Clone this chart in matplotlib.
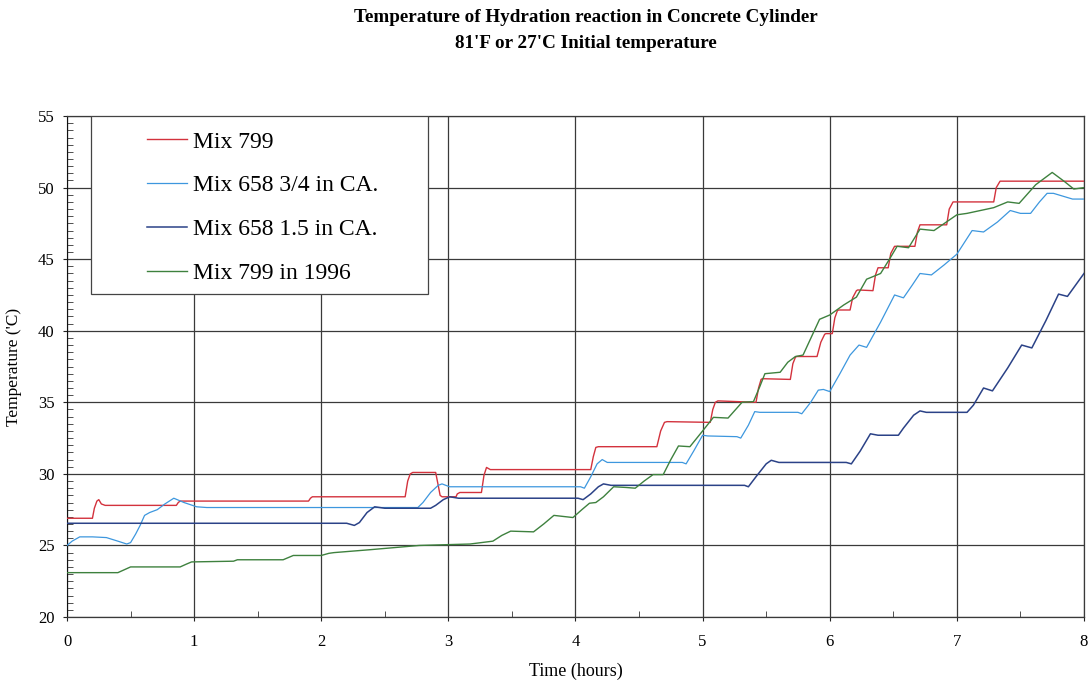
import matplotlib

matplotlib.use("Agg")
import matplotlib.pyplot as plt
from matplotlib.patches import Rectangle
from matplotlib.ticker import MultipleLocator

# Mix 799
red_t = [0, 0.20, 0.215, 0.235, 0.25, 0.27, 0.30, 0.86, 0.875, 0.89, 1.90, 1.915, 1.93,
         2.66, 2.68, 2.70, 2.72, 2.90, 2.92, 2.935, 2.95, 3.06, 3.07, 3.09, 3.26, 3.28, 3.30, 3.33,
         4.12, 4.14, 4.16, 4.18, 4.64, 4.67, 4.70, 4.72, 5.06, 5.08, 5.10, 5.12,
         5.42, 5.44, 5.46, 5.47, 5.69, 5.71, 5.73, 5.74, 5.90, 5.93, 5.96, 5.97,
         6.02, 6.04, 6.06, 6.07, 6.16, 6.18, 6.21, 6.22, 6.34, 6.36, 6.38, 6.39,
         6.46, 6.48, 6.51, 6.52, 6.67, 6.69, 6.71, 6.72, 6.92, 6.94, 6.97, 6.98,
         7.29, 7.31, 7.34, 7.35, 8.0]
red_T = [26.9, 26.9, 27.6, 28.1, 28.2, 27.9, 27.8, 27.8, 28.0, 28.1, 28.1, 28.3, 28.4,
         28.4, 29.5, 30.0, 30.1, 30.1, 29.2, 28.5, 28.4, 28.4, 28.6, 28.7, 28.7, 29.9, 30.45, 30.3,
         30.3, 31.2, 31.85, 31.9, 31.9, 33.0, 33.6, 33.65, 33.6, 34.5, 35.0, 35.1,
         35.0, 36.0, 36.6, 36.65, 36.6, 37.7, 38.15, 38.2, 38.2, 39.2, 39.75, 39.8,
         39.8, 40.9, 41.4, 41.45, 41.45, 42.3, 42.8, 42.85, 42.8, 43.9, 44.4, 44.4,
         44.4, 45.4, 45.9, 45.9, 45.9, 46.9, 47.4, 47.4, 47.4, 48.5, 49.0, 49.0,
         49.0, 50.0, 50.45, 50.45, 50.45]

# Mix 658 3/4 in CA.
lblue_t = [0, 0.04, 0.10, 0.20, 0.31, 0.40, 0.47, 0.50, 0.54, 0.575, 0.61, 0.65, 0.71, 0.77,
           0.84, 0.92, 1.02, 1.10, 2.17, 2.76, 2.80, 2.86, 2.92, 2.95, 3.01, 4.04, 4.07, 4.12,
           4.17, 4.21, 4.25, 4.84, 4.87, 4.93, 5.00, 5.04, 5.27, 5.30, 5.36, 5.41, 5.45, 5.75,
           5.78, 5.85, 5.91, 5.95, 6.00, 6.08, 6.16, 6.23, 6.29, 6.40, 6.51, 6.58, 6.65, 6.71,
           6.80, 6.90, 7.00, 7.12, 7.21, 7.32, 7.42, 7.50, 7.58, 7.65, 7.71, 7.76, 7.91, 8.0]
lblue_T = [25.0, 25.3, 25.6, 25.6, 25.55, 25.3, 25.1, 25.2, 25.8, 26.4, 27.1, 27.3, 27.5, 27.9,
           28.3, 28.0, 27.7, 27.65, 27.65, 27.65, 28.0, 28.7, 29.2, 29.3, 29.1, 29.1, 29.0, 29.8,
           30.7, 31.0, 30.8, 30.8, 30.7, 31.6, 32.7, 32.65, 32.6, 32.5, 33.4, 34.35, 34.3, 34.3,
           34.2, 35.0, 35.85, 35.9, 35.75, 37.0, 38.3, 39.0, 38.84, 40.6, 42.5, 42.3, 43.2, 44.0,
           43.9, 44.6, 45.35, 47.0, 46.9, 47.6, 48.4, 48.2, 48.2, 49.0, 49.6, 49.6, 49.2, 49.2]

# Mix 658 1.5 in CA.
dblue_t = [0, 2.20, 2.26, 2.30, 2.36, 2.42, 2.50, 2.86, 2.90, 2.96, 3.01, 3.08, 4.02, 4.06,
           4.12, 4.18, 4.22, 4.28, 5.33, 5.36, 5.42, 5.50, 5.54, 5.60, 6.13, 6.17, 6.24, 6.32,
           6.38, 6.54, 6.58, 6.66, 6.71, 6.76, 7.08, 7.13, 7.21, 7.28, 7.40, 7.51, 7.59, 7.70,
           7.80, 7.87, 8.0]
dblue_T = [26.55, 26.55, 26.4, 26.6, 27.3, 27.7, 27.6, 27.6, 27.8, 28.2, 28.4, 28.3, 28.3, 28.2,
           28.6, 29.1, 29.3, 29.2, 29.2, 29.1, 29.8, 30.7, 30.95, 30.8, 30.8, 30.7, 31.6, 32.8,
           32.7, 32.7, 33.2, 34.1, 34.4, 34.3, 34.3, 34.8, 36.0, 35.8, 37.4, 39.0, 38.8, 40.7,
           42.56, 42.4, 44.0]

# Mix 799 in 1996
green_t = [0, 0.40, 0.45, 0.50, 0.89, 0.94, 0.98, 1.31, 1.34, 1.70, 1.74, 1.78, 2.0, 2.06,
           2.10, 2.38, 2.77, 3.17, 3.35, 3.42, 3.49, 3.67, 3.75, 3.83, 3.98, 4.05, 4.11, 4.16,
           4.22, 4.30, 4.40, 4.47, 4.54, 4.61, 4.69, 4.75, 4.81, 4.90, 5.00, 5.085, 5.20, 5.26,
           5.31, 5.40, 5.45, 5.49, 5.61, 5.67, 5.73, 5.79, 5.92, 6.00, 6.11, 6.21, 6.29, 6.40,
           6.47, 6.53, 6.62, 6.71, 6.82, 7.00, 7.08, 7.29, 7.40, 7.49, 7.62, 7.75, 7.85, 7.92, 8.0]
green_T = [23.1, 23.1, 23.3, 23.5, 23.5, 23.7, 23.85, 23.9, 24.0, 24.0, 24.15, 24.3, 24.3, 24.45,
           24.5, 24.7, 25.0, 25.1, 25.3, 25.7, 26.0, 25.95, 26.5, 27.1, 26.95, 27.5, 27.95, 28.0,
           28.4, 29.1, 29.05, 29.0, 29.5, 29.95, 29.95, 31.0, 31.95, 31.9, 33.0, 33.95, 33.9, 34.5,
           35.0, 35.05, 36.1, 37.0, 37.1, 37.8, 38.2, 38.3, 40.8, 41.1, 41.8, 42.35, 43.6, 44.0,
           45.0, 45.9, 45.8, 47.1, 47.0, 48.1, 48.2, 48.6, 49.0, 48.9, 50.2, 51.06, 50.4, 49.9, 50.0]

series = [
    ("Mix 799", red_t, red_T, "#d3323d", 1.0),
    ("Mix 658 3/4 in CA.", lblue_t, lblue_T, "#3d97de", 0.9),
    ("Mix 658 1.5 in CA.", dblue_t, dblue_T, "#2b4287", 1.1),
    ("Mix 799 in 1996", green_t, green_T, "#3e813e", 1.0),
]

plt.rcParams["font.family"] = ["Liberation Serif", "DejaVu Serif"]

fig = plt.figure(figsize=(10.88, 6.83), dpi=100)
ax = fig.add_axes([0.0616, 0.0966, 0.9347, 0.7335])

for label, t, temp, color, lw in series:
    ax.plot(t, temp, color=color, linewidth=lw, label=label, zorder=3)

ax.set_xlim(0, 8)
ax.set_ylim(20, 55)
ax.xaxis.set_major_locator(MultipleLocator(1))
ax.xaxis.set_minor_locator(MultipleLocator(0.5))
ax.yaxis.set_major_locator(MultipleLocator(5))
ax.yaxis.set_minor_locator(MultipleLocator(0.5))
ax.grid(True, which="major", color="#3a3a3a", linewidth=0.9)
ax.set_axisbelow(True)
ax.tick_params(which="major", direction="out", length=3, labelsize=12, color="#222")
ax.tick_params(axis="x", which="major", pad=9)
ax.tick_params(axis="y", which="major", pad=6)
ax.tick_params(which="minor", direction="in", length=4, width=0.6, color="#333")
for side in ["top", "right", "bottom"]:
    ax.spines[side].set_color("#3a3a3a")
    ax.spines[side].set_linewidth(0.9)
ax.spines["left"].set_color("#111")

ax.set_xlabel("Time (hours)", fontsize=13, labelpad=9)
ax.set_ylabel("Temperature ('C)", fontsize=12.5, labelpad=11)

fig.text(0.5386, 0.974, "Temperature of Hydration reaction in Concrete Cylinder",
         ha="center", va="center", fontsize=13.8, fontweight="bold")
fig.text(0.5386, 0.937, "81'F or 27'C Initial temperature",
         ha="center", va="center", fontsize=13.8, fontweight="bold")

# legend box drawn separately so the padding can match the original
ax.add_patch(Rectangle((0.0236, 0.645), 0.3314, 0.355, transform=ax.transAxes,
                       facecolor="white", edgecolor="#444", linewidth=0.9, zorder=4))
leg = ax.legend(loc="upper left", bbox_to_anchor=(0.0787, 0.970), frameon=False,
                fontsize=17, handlelength=1.7, handletextpad=0.25, labelspacing=0.94,
                borderpad=0, borderaxespad=0)
leg.set_zorder(5)

fig.savefig("out.png", dpi=100)
